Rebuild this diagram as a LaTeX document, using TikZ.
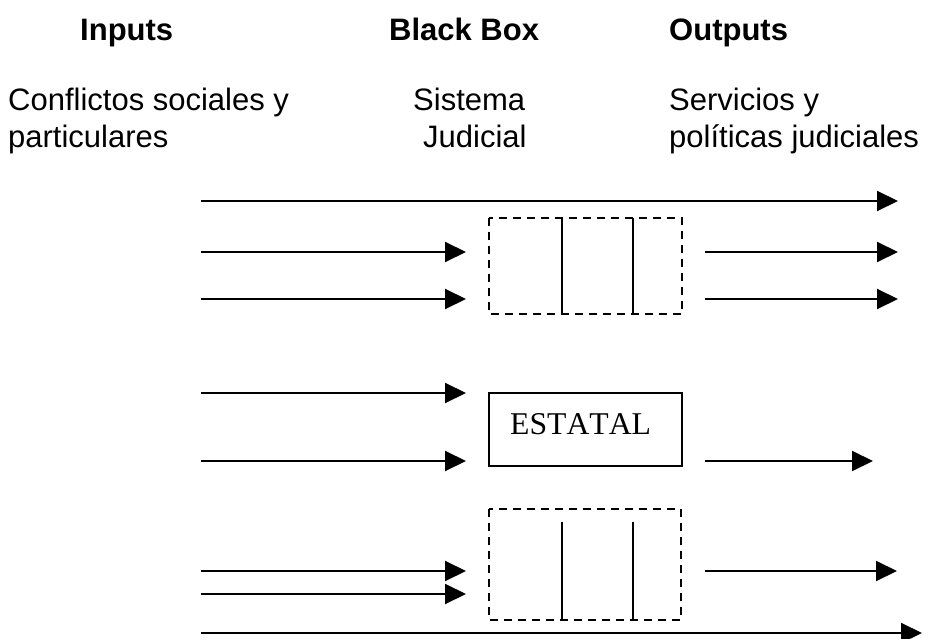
\documentclass[tikz,border=0pt]{standalone}
\usepackage{fontspec}
\setmainfont{Liberation Sans}
\newfontfamily\serifface[Kerning=Off]{Liberation Serif}
\usetikzlibrary{arrows.meta}
\begin{document}
\begin{tikzpicture}[x=1pt,y=-1pt,
  flow/.style={line width=2pt,-{Triangle[length=21pt,width=20pt]}},
  plainline/.style={line width=2pt},
  label/.style={anchor=base west,inner sep=0pt,font=\fontsize{31}{37}\selectfont},
  head/.style={label,font=\fontsize{31}{37}\selectfont\bfseries},
  dashbox/.style={draw,line width=2pt,dash pattern=on 8pt off 6pt},
  statebox/.style={draw,line width=2pt}]
\useasboundingbox (0,0) rectangle (929,639);

% column headings
\node[head] (hin)  at (80,41)  {Inputs};
\node[head] (hbb)  at (389,41) {Black Box};
\node[head] (hout) at (669,41) {Outputs};

% column descriptions
\node[label] (in1)  at (8,111)   {Conflictos sociales y};
\node[label] (in2)  at (8,148)   {particulares};
\node[label] (bb1)  at (413,111) {Sistema};
\node[label] (bb2)  at (423,148) {Judicial};
\node[label] (out1) at (669,111) {Servicios y};
\node[label] (out2) at (669,148) {políticas judiciales};

% upper non-state box
\draw[dashbox] (489,218) rectangle (682,314);
\coordinate (u1t) at (562,218); \coordinate (u1b) at (562,314);
\coordinate (u2t) at (633,218); \coordinate (u2b) at (633,314);
\draw[plainline] (u1t) -- (u1b);
\draw[plainline] (u2t) -- (u2b);

% state box
\node[statebox,minimum width=193pt,minimum height=73pt,inner sep=0pt] (estatal) at (585.5,429.5) {};
\node[anchor=base west,inner sep=0pt,font=\serifface\fontsize{31.7}{38}\selectfont] (estlbl) at (510,434) {ESTATAL};

% lower non-state box
\draw[dashbox] (489,509) rectangle (681,620);
\coordinate (l1t) at (562,522); \coordinate (l1b) at (562,619);
\coordinate (l2t) at (633,522); \coordinate (l2b) at (633,619);
\draw[plainline] (l1t) -- (l1b);
\draw[plainline] (l2t) -- (l2b);

% arrow end points
\coordinate (a0s) at (201,201); \coordinate (a0e) at (898,201);
\coordinate (a1s) at (201,252); \coordinate (a1e) at (466,252);
\coordinate (b1s) at (705,252); \coordinate (b1e) at (898,252);
\coordinate (a2s) at (201,299); \coordinate (a2e) at (466,299);
\coordinate (b2s) at (705,299); \coordinate (b2e) at (898,299);
\coordinate (a3s) at (201,393); \coordinate (a3e) at (466,393);
\coordinate (a4s) at (201,461); \coordinate (a4e) at (466,461);
\coordinate (b4s) at (705,461); \coordinate (b4e) at (873,461);
\coordinate (a5s) at (201,571); \coordinate (a5e) at (466,571);
\coordinate (b5s) at (705,571); \coordinate (b5e) at (897,571);
\coordinate (a6s) at (201,594); \coordinate (a6e) at (466,594);
\coordinate (a7s) at (201,633); \coordinate (a7e) at (922,633);

% flows
\foreach \p in {a0,a1,b1,a2,b2,a3,a4,b4,a5,b5,a6,a7}
  \draw[flow] (\p s) -- (\p e);
\end{tikzpicture}
\end{document}
